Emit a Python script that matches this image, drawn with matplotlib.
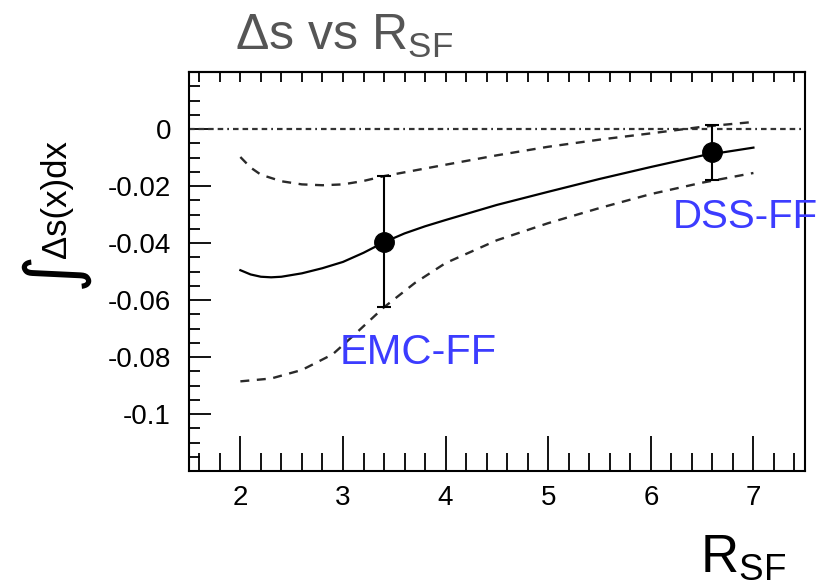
import numpy as np
import matplotlib
matplotlib.use('Agg')
import matplotlib.pyplot as plt

# Fonts: Helvetica-like look
plt.rcParams['font.family'] = ['Liberation Sans', 'DejaVu Sans']
plt.rcParams['mathtext.fontset'] = 'custom'
plt.rcParams['mathtext.rm'] = 'Liberation Sans'
plt.rcParams['mathtext.it'] = 'Liberation Sans:italic'
plt.rcParams['axes.unicode_minus'] = False

# Central curve
r_sf = [2.0, 2.1, 2.2, 2.3, 2.4, 2.6, 2.8, 3.0, 3.2, 3.4, 3.6, 3.8, 4.0,
        4.5, 5.0, 5.5, 6.0, 6.5, 7.0]
ds_mid = [-0.0495, -0.0510, -0.0518, -0.0520, -0.0518, -0.0506, -0.0488,
          -0.0466, -0.0434, -0.0397, -0.0366, -0.0341, -0.0319, -0.0266,
          -0.0220, -0.0175, -0.0133, -0.0093, -0.0065]

# Upper band
r_up = [2.0, 2.1, 2.2, 2.4, 2.6, 2.8, 3.0, 3.2, 3.4, 3.7, 4.0,
        4.5, 5.0, 5.5, 6.0, 6.5, 7.0]
ds_up = [-0.0098, -0.0135, -0.0160, -0.0183, -0.0194, -0.0197, -0.0194,
         -0.0182, -0.0165, -0.0145, -0.0125, -0.0092, -0.0062, -0.0037,
         -0.0015, 0.0008, 0.0025]

# Lower band
r_lo = [2.0, 2.3, 2.6, 2.9, 3.1, 3.4, 3.7, 4.0, 4.5, 5.0, 5.5, 6.0, 6.5, 7.0]
ds_lo = [-0.0885, -0.0875, -0.0845, -0.0790, -0.0725, -0.0625, -0.0540,
         -0.0470, -0.0390, -0.0330, -0.0277, -0.0228, -0.0188, -0.0154]

# Measured points (EMC-FF, DSS-FF)
pt_names = ['EMC-FF', 'DSS-FF']
pt_x = [3.4, 6.6]
pt_y = [-0.0397, -0.0081]
pt_hi = [-0.0165, 0.0014]
pt_lo = [-0.0625, -0.0179]

xticks = [2, 3, 4, 5, 6, 7]
yticks = [0, -0.02, -0.04, -0.06, -0.08, -0.1]
ytick_labels = ['0', '-0.02', '-0.04', '-0.06', '-0.08', '-0.1']

fig = plt.figure(figsize=(8.22, 5.86), dpi=100)
ax = fig.add_axes([0.230, 0.196, 0.749, 0.681])

ax.axhline(0, color='#333333', lw=1.6,
           dashes=(2.5, 1.8, 2.5, 1.8, 2.5, 1.8, 2.5, 1.8, 0.8, 1.8))
ax.plot(r_up, ds_up, color='#2a2a2a', lw=1.7, ls=(0, (3.8, 3.2)))
ax.plot(r_lo, ds_lo, color='#2a2a2a', lw=1.7, ls=(0, (3.8, 3.2)))
ax.plot(r_sf, ds_mid, color='black', lw=1.6)

yerr = [np.array(pt_y) - np.array(pt_lo), np.array(pt_hi) - np.array(pt_y)]
ax.errorbar(pt_x, pt_y, yerr=yerr, fmt='o', color='black', ms=14,
            elinewidth=1.5, capsize=5, capthick=1.5)

ax.text(3.73, -0.0785, pt_names[0], color='#3c3cff', fontsize=30,
        ha='center', va='center')
ax.text(6.92, -0.031, pt_names[1], color='#3c3cff', fontsize=29,
        ha='center', va='center', clip_on=False)

ax.set_xlim(1.5, 7.5)
ax.set_ylim(-0.12, 0.02)

ax.set_xticks(xticks)
ax.set_xticklabels([str(t) for t in xticks])
ax.set_xticks(np.arange(1.6, 7.45, 0.2), minor=True)
ax.set_yticks(yticks)
ax.set_yticklabels(ytick_labels)
ax.set_yticks(np.arange(-0.12, 0.0201, 0.005), minor=True)

ax.tick_params(axis='x', which='major', direction='in', length=25,
               width=1.3, labelsize=20, pad=10, top=False)
ax.tick_params(axis='x', which='minor', direction='in', length=13,
               width=1.3, top=False)
ax.tick_params(axis='y', which='major', direction='in', length=16,
               width=1.3, labelsize=20, pad=13, right=False)
ax.tick_params(axis='y', which='minor', direction='in', length=8,
               width=1.3, right=False)

top = ax.secondary_xaxis('top')
top.set_xticks(np.arange(1.6, 7.45, 0.2))
top.tick_params(direction='in', length=7, width=1.3, labeltop=False)
top.spines['top'].set_linewidth(1.5)

for s in ax.spines.values():
    s.set_linewidth(1.5)

# Title and axis labels
fig.text(0.286, 0.915, r'$\Delta$s vs R$_{\mathrm{SF}}$', color='#555555',
         fontsize=36, ha='left', va='baseline')
fig.text(0.852, 0.024, r'R$_{\mathrm{SF}}$', fontsize=38,
         ha='left', va='baseline')
fig.text(0.065, 0.54, '\u222b', fontsize=52, rotation=90,
         ha='center', va='center', family=['DejaVu Sans'])
fig.text(0.069, 0.66, '\u0394s(x)dx', fontsize=25, rotation=90,
         ha='center', va='center')

fig.savefig('out.png', dpi=100)
